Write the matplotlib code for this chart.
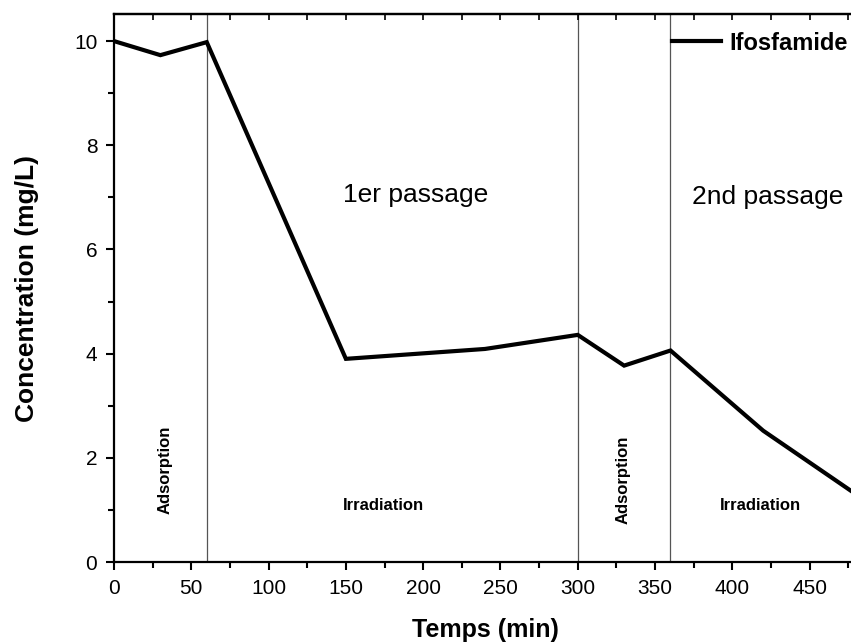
import matplotlib
matplotlib.use("Agg")
import matplotlib.pyplot as plt
from matplotlib.ticker import MultipleLocator

plt.rcParams['font.family'] = ['Liberation Sans', 'DejaVu Sans']

time_min = [0, 30, 60, 150, 240, 300, 330, 360, 420, 480]
conc = [10.0, 9.73, 9.98, 3.9, 4.09, 4.36, 3.77, 4.06, 2.52, 1.3]
phase_bounds = [60, 300, 360]
series_name = "Ifosfamide"

fig = plt.figure(figsize=(8.51, 6.43), dpi=100)
ax = fig.add_axes([114/851, 1 - 562/643, (856-114)/851, (562-14)/643])

ax.plot(time_min, conc, color='black', lw=3, label=series_name, solid_joinstyle='miter')
for b in phase_bounds:
    ax.axvline(b, color='#555555', lw=0.9, zorder=0)

ax.set_xlim(0, 480)
ax.set_ylim(0, 10.52)
ax.xaxis.set_major_locator(MultipleLocator(50))
ax.xaxis.set_minor_locator(MultipleLocator(25))
ax.yaxis.set_major_locator(MultipleLocator(2))
ax.yaxis.set_minor_locator(MultipleLocator(1))
ax.tick_params(axis='both', which='major', direction='out', length=6, width=1.5, labelsize=15)
ax.tick_params(axis='both', which='minor', direction='out', length=4.5, width=1.5)
ax.tick_params(axis='x', which='major', pad=6)
ax.tick_params(axis='y', which='major', pad=6)
for s in ax.spines.values():
    s.set_linewidth(1.6)
# top ticks inward
secx = ax.secondary_xaxis('top')
secx.xaxis.set_major_locator(MultipleLocator(50))
secx.xaxis.set_minor_locator(MultipleLocator(25))
secx.tick_params(which='major', direction='in', length=4, width=1.2, labeltop=False)
secx.tick_params(which='minor', direction='in', length=4, width=1.2)
secx.spines['top'].set_linewidth(1.6)
ax.tick_params(axis='x', which='both', top=False)

ax.set_xlabel("Temps (min)", fontsize=18, fontweight='bold', labelpad=15)
ax.set_ylabel("Concentration (mg/L)", fontsize=19, fontweight='bold', labelpad=25)

ax.text(195, 7.05, "1er passage", fontsize=19, ha='center', va='center')
ax.text(423, 7.0, "2nd passage", fontsize=19, ha='center', va='center')
ax.text(33, 1.77, "Adsorption", fontsize=12, fontweight='bold', rotation=90, ha='center', va='center')
ax.text(174, 1.08, "Irradiation", fontsize=12, fontweight='bold', ha='center', va='center')
ax.text(329, 1.57, "Adsorption", fontsize=12, fontweight='bold', rotation=90, ha='center', va='center')
ax.text(418, 1.08, "Irradiation", fontsize=12, fontweight='bold', ha='center', va='center')

leg = ax.legend(loc='center right', bbox_to_anchor=(0.989, 0.947), frameon=False,
                prop={'weight': 'bold', 'size': 17}, handlelength=2.1, handletextpad=0.34,
                borderaxespad=0, borderpad=0)

fig.savefig("out.png", dpi=100)
